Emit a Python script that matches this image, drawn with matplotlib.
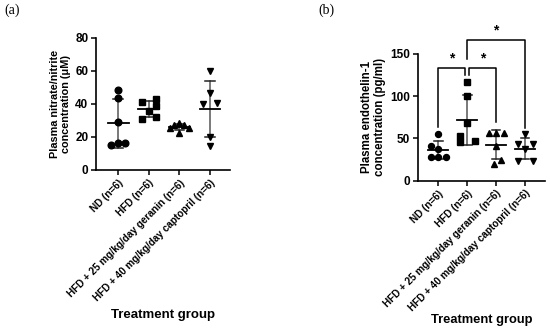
import numpy as np
import matplotlib
matplotlib.use('Agg')
import matplotlib.pyplot as plt

plt.rcParams['font.family'] = ['Liberation Sans', 'DejaVu Sans']
plt.rcParams['font.weight'] = 'bold'

groups = ['ND (n=6)', 'HFD (n=6)',
          'HFD + 25 mg/kg/day geranin (n=6)',
          'HFD + 40 mg/kg/day captopril (n=6)']
markers = ['o', 's', '^', 'v']

# panel (a): plasma nitrate/nitrite (uM)
nox_nd = [48.5, 43.5, 29.0, 15.0, 16.5, 16.5]
nox_hfd = [41.3, 42.7, 38.5, 35.7, 30.8, 32.0]
nox_ger = [28.5, 27.0, 27.0, 25.5, 25.5, 22.5]
nox_cap = [59.9, 46.4, 39.7, 40.3, 20.2, 14.5]

# panel (b): plasma endothelin-1 (pg/ml)
et_nd = [55.5, 41.5, 38.0, 28.0, 28.0, 28.0]
et_hfd = [116.3, 100.5, 68.0, 53.0, 46.0, 47.5]
et_ger = [56.5, 57.0, 56.5, 41.0, 24.0, 20.0]
et_cap = [55.4, 43.5, 43.5, 37.2, 23.7, 23.7]

# horizontal scatter slots (in marker widths) for each point
slots_a = [[0, 0, 0, -1, 0, 1],
           [-1, 1, 1, 0, -1, 1],
           [0, -0.7, 0.7, -1.3, 1.3, 0],
           [0, 0, -1, 1, 0, 0]]
slots_b = [[0, -1, 0, -1, 0, 1],
           [0, 0, 0, -1, -1, 1],
           [-1, 0, 1, 0, 0.7, -0.3],
           [0, -1, 1, 0, -1, 1]]

fig = plt.figure(figsize=(5.5, 3.29), dpi=100)


def dot_plot(ax, data, slots, ms, step):
    for i, vals in enumerate(data):
        vals = np.array(vals)
        xs = i + np.array(slots[i]) * step
        ax.plot(xs, vals, linestyle='none', marker=markers[i], color='black',
                markersize=ms, zorder=3, clip_on=False)
        m = vals.mean()
        sd = vals.std(ddof=1)
        ax.plot([i, i], [m - sd, m + sd], color='#555555', lw=1.1, zorder=2)
        ax.plot([i - 0.15, i + 0.15], [m + sd, m + sd], color='#222222', lw=1.1, zorder=2)
        ax.plot([i - 0.15, i + 0.15], [m - sd, m - sd], color='#222222', lw=1.1, zorder=2)
        ax.plot([i - 0.34, i + 0.34], [m, m], color='black', lw=1.3, zorder=4)


def style_axes(ax, ymax, ystep):
    for s in ['top', 'right']:
        ax.spines[s].set_visible(False)
    for s in ['left', 'bottom']:
        ax.spines[s].set_linewidth(1.2)
    ax.set_ylim(0, ymax)
    ax.set_yticks(np.arange(0, ymax + 1, ystep))
    ax.set_xticks(range(len(groups)))
    ax.set_xticklabels(groups, rotation=45, ha='right', rotation_mode='anchor',
                       fontsize=7.2, fontweight='bold')
    ax.tick_params(axis='both', direction='out', length=3.5, width=1.1, pad=2)
    ax.tick_params(axis='y', labelsize=8.5)


# panel (a)
ax1 = fig.add_axes([96 / 550, 1 - 170 / 329, 134 / 550, 132.3 / 329])
dot_plot(ax1, [nox_nd, nox_hfd, nox_ger, nox_cap], slots_a, 4.8, 0.23)
style_axes(ax1, 80, 20)
ax1.set_xlim(-0.72, 3.65)
ax1.set_ylabel('Plasma nitrate/nitrite\nconcentration (\u03bcM)', fontsize=7.8,
               fontweight='bold', labelpad=3, linespacing=1.1)

# panel (b)
ax2 = fig.add_axes([418 / 550, 1 - 180.7 / 329, 127 / 550, 126.7 / 329])
dot_plot(ax2, [et_nd, et_hfd, et_ger, et_cap], slots_b, 4.3, 0.26)
style_axes(ax2, 150, 50)
ax2.set_xlim(-0.7, 3.69)
ax2.set_ylabel('Plasma endothelin-1\nconcentration (pg/ml)', fontsize=8.3,
               fontweight='bold', labelpad=3, linespacing=1.1)

# significance brackets
br = dict(color='black', lw=1.1, clip_on=False)
ax2.plot([0, 0, 0.94, 0.94], [64, 133, 133, 125], **br)
ax2.plot([1.06, 1.06, 2, 2], [125, 133, 133, 69], **br)
ax2.plot([1, 1, 3, 3], [144, 167, 167, 62], **br)
for xs, ys in [(0.47, 136), (1.53, 136), (2.0, 170)]:
    ax2.text(xs, ys, '*', ha='center', va='bottom', fontsize=10, clip_on=False)

fig.text(163 / 550, 1 - 315 / 329, 'Treatment group', ha='center', va='center',
         fontsize=9.5, fontweight='bold')
fig.text(482 / 550, 1 - 320 / 329, 'Treatment group', ha='center', va='center',
         fontsize=9.3, fontweight='bold')
fig.text(4 / 550, 1 - 10 / 329, '(a)', ha='left', va='center', fontsize=10,
         family='Liberation Serif', fontweight='normal')
fig.text(318 / 550, 1 - 10 / 329, '(b)', ha='left', va='center', fontsize=10,
         family='Liberation Serif', fontweight='normal')

fig.savefig('out.png', dpi=100)
